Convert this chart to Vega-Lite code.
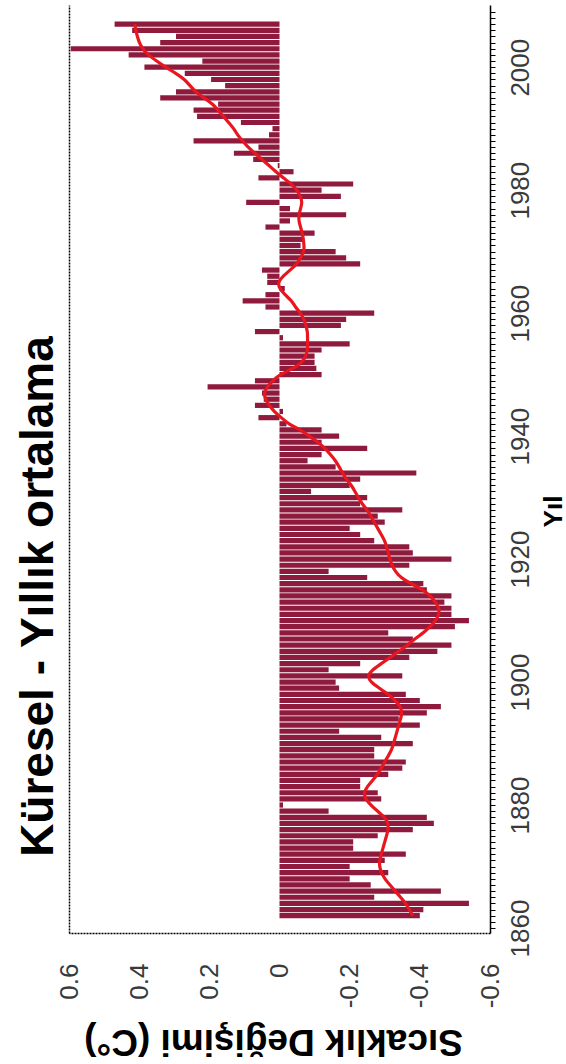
{
  "$schema": "https://vega.github.io/schema/vega-lite/v6.json",
  "width": 421,
  "height": 928,
  "autosize": {"type": "none"},
  "padding": {"left": 69, "top": 5, "right": 76, "bottom": 131},
  "background": "white",
  "config": {"view": {"stroke": null}, "font": "Liberation Sans"},
  "data": {
    "values": [
      {"year": 1862, "anomaly": -0.40, "smooth": -0.38},
      {"year": 1863, "anomaly": -0.41, "smooth": -0.37},
      {"year": 1864, "anomaly": -0.54, "smooth": -0.36},
      {"year": 1865, "anomaly": -0.27, "smooth": -0.345},
      {"year": 1866, "anomaly": -0.46, "smooth": -0.33},
      {"year": 1867, "anomaly": -0.26, "smooth": -0.315},
      {"year": 1868, "anomaly": -0.20, "smooth": -0.30},
      {"year": 1869, "anomaly": -0.31, "smooth": -0.29},
      {"year": 1870, "anomaly": -0.20, "smooth": -0.285},
      {"year": 1871, "anomaly": -0.30, "smooth": -0.285},
      {"year": 1872, "anomaly": -0.36, "smooth": -0.29},
      {"year": 1873, "anomaly": -0.21, "smooth": -0.295},
      {"year": 1874, "anomaly": -0.21, "smooth": -0.30},
      {"year": 1875, "anomaly": -0.28, "smooth": -0.305},
      {"year": 1876, "anomaly": -0.38, "smooth": -0.31},
      {"year": 1877, "anomaly": -0.44, "smooth": -0.31},
      {"year": 1878, "anomaly": -0.42, "smooth": -0.30},
      {"year": 1879, "anomaly": -0.14, "smooth": -0.28},
      {"year": 1880, "anomaly": -0.01, "smooth": -0.26},
      {"year": 1881, "anomaly": -0.29, "smooth": -0.245},
      {"year": 1882, "anomaly": -0.28, "smooth": -0.24},
      {"year": 1883, "anomaly": -0.23, "smooth": -0.25},
      {"year": 1884, "anomaly": -0.23, "smooth": -0.265},
      {"year": 1885, "anomaly": -0.31, "smooth": -0.28},
      {"year": 1886, "anomaly": -0.35, "smooth": -0.29},
      {"year": 1887, "anomaly": -0.36, "smooth": -0.30},
      {"year": 1888, "anomaly": -0.27, "smooth": -0.31},
      {"year": 1889, "anomaly": -0.27, "smooth": -0.32},
      {"year": 1890, "anomaly": -0.38, "smooth": -0.325},
      {"year": 1891, "anomaly": -0.29, "smooth": -0.33},
      {"year": 1892, "anomaly": -0.17, "smooth": -0.335},
      {"year": 1893, "anomaly": -0.40, "smooth": -0.34},
      {"year": 1894, "anomaly": -0.34, "smooth": -0.345},
      {"year": 1895, "anomaly": -0.42, "smooth": -0.35},
      {"year": 1896, "anomaly": -0.46, "smooth": -0.345},
      {"year": 1897, "anomaly": -0.40, "smooth": -0.33},
      {"year": 1898, "anomaly": -0.36, "smooth": -0.31},
      {"year": 1899, "anomaly": -0.17, "smooth": -0.285},
      {"year": 1900, "anomaly": -0.16, "smooth": -0.26},
      {"year": 1901, "anomaly": -0.35, "smooth": -0.25},
      {"year": 1902, "anomaly": -0.14, "smooth": -0.265},
      {"year": 1903, "anomaly": -0.23, "smooth": -0.29},
      {"year": 1904, "anomaly": -0.37, "smooth": -0.315},
      {"year": 1905, "anomaly": -0.45, "smooth": -0.34},
      {"year": 1906, "anomaly": -0.49, "smooth": -0.365},
      {"year": 1907, "anomaly": -0.38, "smooth": -0.385},
      {"year": 1908, "anomaly": -0.31, "smooth": -0.41},
      {"year": 1909, "anomaly": -0.50, "smooth": -0.43},
      {"year": 1910, "anomaly": -0.54, "smooth": -0.445},
      {"year": 1911, "anomaly": -0.49, "smooth": -0.455},
      {"year": 1912, "anomaly": -0.49, "smooth": -0.455},
      {"year": 1913, "anomaly": -0.47, "smooth": -0.445},
      {"year": 1914, "anomaly": -0.49, "smooth": -0.43},
      {"year": 1915, "anomaly": -0.42, "smooth": -0.41},
      {"year": 1916, "anomaly": -0.41, "smooth": -0.375},
      {"year": 1917, "anomaly": -0.25, "smooth": -0.345},
      {"year": 1918, "anomaly": -0.14, "smooth": -0.33},
      {"year": 1919, "anomaly": -0.37, "smooth": -0.32},
      {"year": 1920, "anomaly": -0.49, "smooth": -0.315},
      {"year": 1921, "anomaly": -0.38, "smooth": -0.31},
      {"year": 1922, "anomaly": -0.37, "smooth": -0.305},
      {"year": 1923, "anomaly": -0.27, "smooth": -0.30},
      {"year": 1924, "anomaly": -0.23, "smooth": -0.29},
      {"year": 1925, "anomaly": -0.20, "smooth": -0.28},
      {"year": 1926, "anomaly": -0.30, "smooth": -0.27},
      {"year": 1927, "anomaly": -0.28, "smooth": -0.26},
      {"year": 1928, "anomaly": -0.35, "smooth": -0.25},
      {"year": 1929, "anomaly": -0.23, "smooth": -0.235},
      {"year": 1930, "anomaly": -0.25, "smooth": -0.225},
      {"year": 1931, "anomaly": -0.09, "smooth": -0.215},
      {"year": 1932, "anomaly": -0.20, "smooth": -0.205},
      {"year": 1933, "anomaly": -0.23, "smooth": -0.19},
      {"year": 1934, "anomaly": -0.39, "smooth": -0.18},
      {"year": 1935, "anomaly": -0.16, "smooth": -0.17},
      {"year": 1936, "anomaly": -0.08, "smooth": -0.16},
      {"year": 1937, "anomaly": -0.12, "smooth": -0.145},
      {"year": 1938, "anomaly": -0.25, "smooth": -0.13},
      {"year": 1939, "anomaly": -0.12, "smooth": -0.11},
      {"year": 1940, "anomaly": -0.17, "smooth": -0.085},
      {"year": 1941, "anomaly": -0.12, "smooth": -0.06},
      {"year": 1942, "anomaly": -0.02, "smooth": -0.025},
      {"year": 1943, "anomaly": 0.06, "smooth": -0.005},
      {"year": 1944, "anomaly": -0.01, "smooth": 0.015},
      {"year": 1945, "anomaly": 0.07, "smooth": 0.03},
      {"year": 1946, "anomaly": 0.045, "smooth": 0.04},
      {"year": 1947, "anomaly": 0.05, "smooth": 0.045},
      {"year": 1948, "anomaly": 0.205, "smooth": 0.035},
      {"year": 1949, "anomaly": 0.07, "smooth": 0.02},
      {"year": 1950, "anomaly": -0.12, "smooth": 0.0},
      {"year": 1951, "anomaly": -0.105, "smooth": -0.04},
      {"year": 1952, "anomaly": -0.10, "smooth": -0.065},
      {"year": 1953, "anomaly": -0.10, "smooth": -0.075},
      {"year": 1954, "anomaly": -0.12, "smooth": -0.08},
      {"year": 1955, "anomaly": -0.20, "smooth": -0.08},
      {"year": 1956, "anomaly": -0.01, "smooth": -0.08},
      {"year": 1957, "anomaly": 0.07, "smooth": -0.08},
      {"year": 1958, "anomaly": -0.175, "smooth": -0.075},
      {"year": 1959, "anomaly": -0.19, "smooth": -0.07},
      {"year": 1960, "anomaly": -0.27, "smooth": -0.06},
      {"year": 1961, "anomaly": 0.04, "smooth": -0.045},
      {"year": 1962, "anomaly": 0.105, "smooth": -0.035},
      {"year": 1963, "anomaly": 0.04, "smooth": -0.015},
      {"year": 1964, "anomaly": -0.015, "smooth": 0.0},
      {"year": 1965, "anomaly": 0.035, "smooth": 0.005},
      {"year": 1966, "anomaly": 0.035, "smooth": -0.01},
      {"year": 1967, "anomaly": 0.05, "smooth": -0.03},
      {"year": 1968, "anomaly": -0.23, "smooth": -0.05},
      {"year": 1969, "anomaly": -0.19, "smooth": -0.06},
      {"year": 1970, "anomaly": -0.16, "smooth": -0.07},
      {"year": 1971, "anomaly": -0.06, "smooth": -0.07},
      {"year": 1972, "anomaly": -0.07, "smooth": -0.068},
      {"year": 1973, "anomaly": -0.10, "smooth": -0.065},
      {"year": 1974, "anomaly": 0.04, "smooth": -0.06},
      {"year": 1975, "anomaly": -0.03, "smooth": -0.055},
      {"year": 1976, "anomaly": -0.19, "smooth": -0.055},
      {"year": 1977, "anomaly": -0.03, "smooth": -0.06},
      {"year": 1978, "anomaly": 0.095, "smooth": -0.065},
      {"year": 1979, "anomaly": -0.175, "smooth": -0.06},
      {"year": 1980, "anomaly": -0.12, "smooth": -0.05},
      {"year": 1981, "anomaly": -0.21, "smooth": -0.035},
      {"year": 1982, "anomaly": 0.06, "smooth": -0.01},
      {"year": 1983, "anomaly": -0.04, "smooth": 0.01},
      {"year": 1984, "anomaly": 0.005, "smooth": 0.03},
      {"year": 1985, "anomaly": 0.075, "smooth": 0.05},
      {"year": 1986, "anomaly": 0.13, "smooth": 0.07},
      {"year": 1987, "anomaly": 0.06, "smooth": 0.09},
      {"year": 1988, "anomaly": 0.245, "smooth": 0.105},
      {"year": 1989, "anomaly": 0.03, "smooth": 0.12},
      {"year": 1990, "anomaly": 0.02, "smooth": 0.13},
      {"year": 1991, "anomaly": 0.11, "smooth": 0.145},
      {"year": 1992, "anomaly": 0.235, "smooth": 0.16},
      {"year": 1993, "anomaly": 0.245, "smooth": 0.175},
      {"year": 1994, "anomaly": 0.175, "smooth": 0.19},
      {"year": 1995, "anomaly": 0.34, "smooth": 0.215},
      {"year": 1996, "anomaly": 0.295, "smooth": 0.24},
      {"year": 1997, "anomaly": 0.155, "smooth": 0.255},
      {"year": 1998, "anomaly": 0.195, "smooth": 0.27},
      {"year": 1999, "anomaly": 0.27, "smooth": 0.295},
      {"year": 2000, "anomaly": 0.385, "smooth": 0.325},
      {"year": 2001, "anomaly": 0.22, "smooth": 0.35},
      {"year": 2002, "anomaly": 0.43, "smooth": 0.375},
      {"year": 2003, "anomaly": 0.595, "smooth": 0.39},
      {"year": 2004, "anomaly": 0.34, "smooth": 0.40},
      {"year": 2005, "anomaly": 0.295, "smooth": 0.405},
      {"year": 2006, "anomaly": 0.42, "smooth": 0.41},
      {"year": 2007, "anomaly": 0.47, "smooth": 0.412}
    ]
  },
  "resolve": {"axis": {"y": "independent"}},
  "layer": [
    {
      "mark": {"type": "bar", "orient": "horizontal", "size": 5.2, "color": "#8E1B3E"},
      "encoding": {
        "y": {
          "field": "year",
          "type": "quantitative",
          "scale": {"domain": [1860, 2009.3], "nice": false, "zero": false},
          "axis": {
            "orient": "right",
            "values": [1860,1861,1862,1863,1864,1865,1866,1867,1868,1869,1870,1871,1872,1873,1874,1875,1876,1877,1878,1879,1880,1881,1882,1883,1884,1885,1886,1887,1888,1889,1890,1891,1892,1893,1894,1895,1896,1897,1898,1899,1900,1901,1902,1903,1904,1905,1906,1907,1908,1909,1910,1911,1912,1913,1914,1915,1916,1917,1918,1919,1920,1921,1922,1923,1924,1925,1926,1927,1928,1929,1930,1931,1932,1933,1934,1935,1936,1937,1938,1939,1940,1941,1942,1943,1944,1945,1946,1947,1948,1949,1950,1951,1952,1953,1954,1955,1956,1957,1958,1959,1960,1961,1962,1963,1964,1965,1966,1967,1968,1969,1970,1971,1972,1973,1974,1975,1976,1977,1978,1979,1980,1981,1982,1983,1984,1985,1986,1987,1988,1989,1990,1991,1992,1993,1994,1995,1996,1997,1998,1999,2000,2001,2002,2003,2004,2005,2006,2007,2008,2009],
            "labelExpr": "datum.value % 20 === 0 ? '' + datum.value : ''",
            "labelAngle": -90,
            "labelAlign": "center",
            "labelBaseline": "top",
            "labelPadding": 12,
            "labelOverlap": false,
            "labelBound": false,
            "labelFlush": false,
            "labelFont": "Liberation Sans",
            "labelFontSize": 26,
            "labelColor": "#3a3a3a",
            "tickSize": 5,
            "tickWidth": 1,
            "tickColor": "#000000",
            "domainColor": "#000000",
            "domainWidth": 1.5,
            "grid": false,
            "title": "Yıl",
            "titleFont": "Liberation Sans",
            "titleFontSize": 26,
            "titleFontWeight": "bold",
            "titleColor": "#000000",
            "titleAngle": -90,
            "titleAlign": "center",
            "titleBaseline": "alphabetic",
            "titleX": 71,
            "titleY": 506
          }
        },
        "x": {
          "field": "anomaly",
          "type": "quantitative",
          "scale": {"domain": [-0.6, 0.6], "reverse": true, "nice": false},
          "axis": {
            "orient": "bottom",
            "values": [-0.6, -0.4, -0.2, 0, 0.2, 0.4, 0.6],
            "labelExpr": "datum.value == 0 ? '0' : (datum.value < 0 ? '-' + format(-datum.value, '.1f') : format(datum.value, '.1f'))",
            "labelAngle": -90,
            "labelAlign": "right",
            "labelBaseline": "middle",
            "labelPadding": 30,
            "labelFlush": false,
            "labelOverlap": false,
            "labelFont": "Liberation Sans",
            "labelFontSize": 26,
            "labelColor": "#3a3a3a",
            "ticks": false,
            "grid": false,
            "domainColor": "#000000",
            "domainWidth": 1.5,
            "domainDash": [2, 1],
            "title": "Sıcaklık Değişimi (C°)",
            "titleFont": "Liberation Sans",
            "titleFontSize": 37,
            "titleFontWeight": "bold",
            "titleColor": "#000000",
            "titleAngle": 180,
            "titleBaseline": "alphabetic",
            "titleX": 204,
            "titleY": 96
          }
        }
      }
    },
    {
      "mark": {"type": "line", "color": "#E8161F", "strokeWidth": 3.2, "interpolate": "basis"},
      "encoding": {
        "y": {
          "field": "year",
          "type": "quantitative",
          "axis": {
            "orient": "left",
            "labels": false,
            "ticks": false,
            "grid": false,
            "domainColor": "#000000",
            "domainWidth": 1.5,
            "domainDash": [2, 1],
            "title": "Küresel - Yıllık ortalama",
            "titleFont": "Liberation Sans",
            "titleFontSize": 46,
            "titleFontWeight": "bold",
            "titleColor": "#000000",
            "titleAngle": -90,
            "titleAlign": "center",
            "titleBaseline": "alphabetic",
            "titleX": -17,
            "titleY": 591
          }
        },
        "x": {"field": "smooth", "type": "quantitative"},
        "order": {"field": "year", "type": "quantitative"}
      }
    }
  ]
}
